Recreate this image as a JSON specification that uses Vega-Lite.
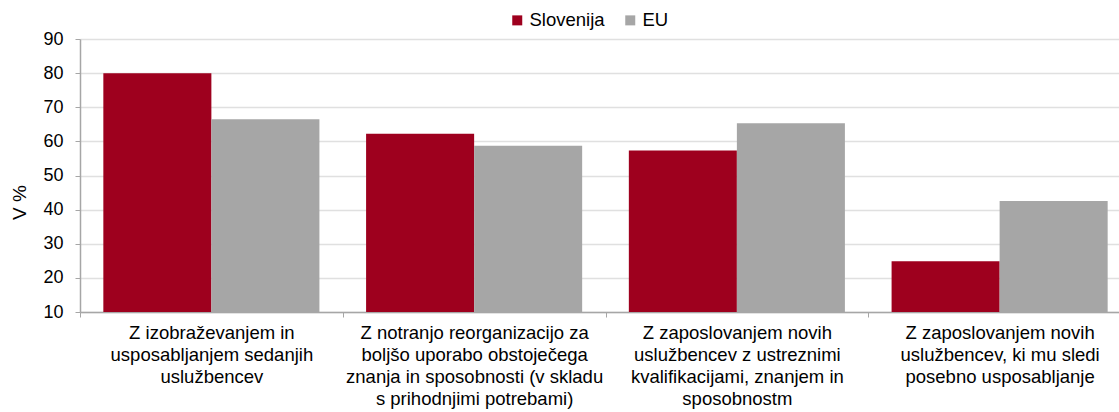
{
  "$schema": "https://vega.github.io/schema/vega-lite/v6.json",
  "autosize": "none",
  "width": 1039,
  "height": 273,
  "padding": {"left": 80, "top": 39, "right": 0, "bottom": 100},
  "background": "white",
  "config": {
    "font": "Liberation Sans",
    "view": {"stroke": null},
    "axis": {"labelFont": "Liberation Sans", "titleFont": "Liberation Sans", "labelColor": "#000000", "titleColor": "#000000"}
  },
  "data": {
    "values": [
      {"kat": "Z izobraževanjem in|usposabljanjem sedanjih|uslužbencev", "serija": "Slovenija", "vrednost": 80.0},
      {"kat": "Z izobraževanjem in|usposabljanjem sedanjih|uslužbencev", "serija": "EU", "vrednost": 66.5},
      {"kat": "Z notranjo reorganizacijo za|boljšo uporabo obstoječega|znanja in sposobnosti (v skladu|s prihodnjimi potrebami)", "serija": "Slovenija", "vrednost": 62.2},
      {"kat": "Z notranjo reorganizacijo za|boljšo uporabo obstoječega|znanja in sposobnosti (v skladu|s prihodnjimi potrebami)", "serija": "EU", "vrednost": 58.7},
      {"kat": "Z zaposlovanjem novih|uslužbencev z ustreznimi|kvalifikacijami, znanjem in|sposobnostm", "serija": "Slovenija", "vrednost": 57.3},
      {"kat": "Z zaposlovanjem novih|uslužbencev z ustreznimi|kvalifikacijami, znanjem in|sposobnostm", "serija": "EU", "vrednost": 65.3},
      {"kat": "Z zaposlovanjem novih|uslužbencev, ki mu sledi|posebno usposabljanje", "serija": "Slovenija", "vrednost": 24.9},
      {"kat": "Z zaposlovanjem novih|uslužbencev, ki mu sledi|posebno usposabljanje", "serija": "EU", "vrednost": 42.5}
    ]
  },
  "mark": {"type": "bar", "clip": true},
  "encoding": {
    "x": {
      "field": "kat",
      "type": "nominal",
      "sort": null,
      "title": null,
      "scale": {"range": [0, 1051], "paddingInner": 0, "paddingOuter": 0},
      "axis": {
        "labelAngle": 0,
        "labelExpr": "split(datum.label, '|')",
        "labelFontSize": 18.5,
        "labelLineHeight": 22,
        "labelPadding": 6,
        "labelLimit": 400,
        "tickBand": "extent",
        "tickSize": 5,
        "tickColor": "#a6a6a6",
        "domainColor": "#a6a6a6",
        "domainWidth": 1.5,
        "grid": false
      }
    },
    "xOffset": {
      "field": "serija",
      "type": "nominal",
      "sort": ["Slovenija", "EU"],
      "scale": {"paddingOuter": 0.216, "paddingInner": 0}
    },
    "y": {
      "field": "vrednost",
      "type": "quantitative",
      "title": "V %",
      "scale": {"domain": [10, 90], "zero": false, "nice": false},
      "axis": {
        "values": [10, 20, 30, 40, 50, 60, 70, 80, 90],
        "labelFontSize": 18,
        "labelPadding": 12,
        "tickSize": 5,
        "tickColor": "#a6a6a6",
        "domainColor": "#a6a6a6",
        "domainWidth": 1.5,
        "gridColor": "#e0e0e0",
        "gridWidth": 1.5,
        "titleFontSize": 19,
        "titleFontWeight": "normal",
        "titleAngle": -90,
        "titleAlign": "center",
        "titleBaseline": "middle",
        "titleX": -61,
        "titleY": 163
      }
    },
    "color": {
      "field": "serija",
      "type": "nominal",
      "sort": ["Slovenija", "EU"],
      "title": null,
      "scale": {"domain": ["Slovenija", "EU"], "range": ["#9e001e", "#a6a6a6"]},
      "legend": {
        "orient": "none",
        "legendX": 428,
        "legendY": -28,
        "direction": "horizontal",
        "symbolType": "square",
        "symbolSize": 100,
        "symbolStrokeWidth": 0,
        "labelFontSize": 18.5,
        "labelColor": "#000000",
        "labelOffset": 3,
        "columnPadding": 16
      }
    }
  }
}
